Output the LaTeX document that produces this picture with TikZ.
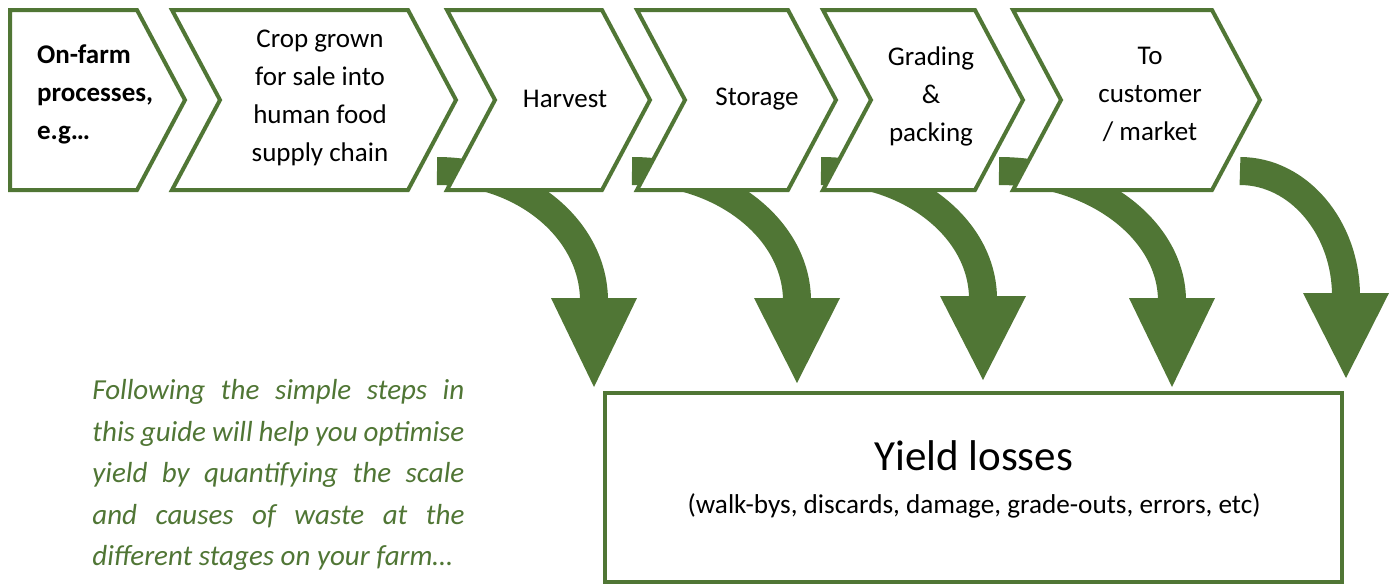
\documentclass[tikz,border=0pt]{standalone}
\usepackage{fontspec}
\setmainfont{Carlito}
\definecolor{leafgreen}{RGB}{80,118,53}

\tikzset{
  stage/.style={draw=leafgreen, line width=2pt, fill=white, line join=miter},
  stagetext/.style={align=center, font=\fontsize{13.5}{19}\selectfont},
  shaft/.style={draw=leafgreen, line width=14pt},
  lossbox/.style={draw=leafgreen, line width=2pt, minimum width=368.5pt, minimum height=94.5pt},
}

\begin{document}
\begin{tikzpicture}[x=0.5pt,y=-0.5pt]
\useasboundingbox (0,0) rectangle (1399,585);

% loss arrows, drawn first so the stages cover their tails
\foreach \n/\xs/\xe/\yb/\yt in {1/437/594/298/387,2/632/797/298/383,3/821/983/296/380,4/999/1172/298/387,5/1240/1346/293/378}{
  \coordinate (s\n) at (\xs,171);
  \coordinate (e\n) at (\xe,\yb+3);
  \coordinate (t\n) at (\xe,\yt);
  \draw[shaft] (s\n) .. controls +({0.55*(\xe-\xs)},0) and +(0,{-0.55*(\yb+3-171)}) .. (e\n);
  \fill[leafgreen] (\xe-43,\yb) -- (\xe+43,\yb) -- (t\n) -- cycle;
}

% stages
\draw[stage] (10,10) -- (137,10) -- (185,100) -- (137,190) -- (10,190) -- cycle;
\foreach \l/\r in {172/408,447/602,637/788,823/975,1013/1212}
	\draw[stage] (\l,10) -- (\r,10) -- (\r+48,100) -- (\r,190) -- (\l,190) -- (\l+48,100) -- cycle;

\node[stagetext, align=left, anchor=west, font=\fontsize{13.5}{19}\selectfont\bfseries] (onfarm) at (30,94) {On-farm\\processes,\\e.g…};
\node[stagetext] (crop) at (320,98) {Crop grown\\for sale into\\human food\\supply chain};
\node[stagetext] (harvest) at (565,99) {Harvest};
\node[stagetext] (storage) at (757,99) {Storage};
\node[stagetext] (grading) at (931,96) {Grading\\\&\\packing};
\node[stagetext] (customer) at (1150,94) {To\\customer\\/ market};

% losses
\node[lossbox] (losses) at (973.5,487.5) {};
\node[font=\fontsize{21.5}{26}\selectfont] (yield) at (974,456) {Yield losses};
\node[font=\fontsize{13.6}{16}\selectfont] (causes) at (974,506) {(walk-bys, discards, damage, grade-outs, errors, etc)};

\node[anchor=north west, inner sep=0pt, text width=186pt, align=justify, text=leafgreen,
      font=\itshape\fontsize{14.5}{20.75}\selectfont] (guide) at (92,379)
  {Following the simple steps in\linebreak this guide will help you optimise\linebreak yield by quantifying the scale\linebreak and causes of waste at the\linebreak different stages on your farm…};
\end{tikzpicture}
\end{document}
